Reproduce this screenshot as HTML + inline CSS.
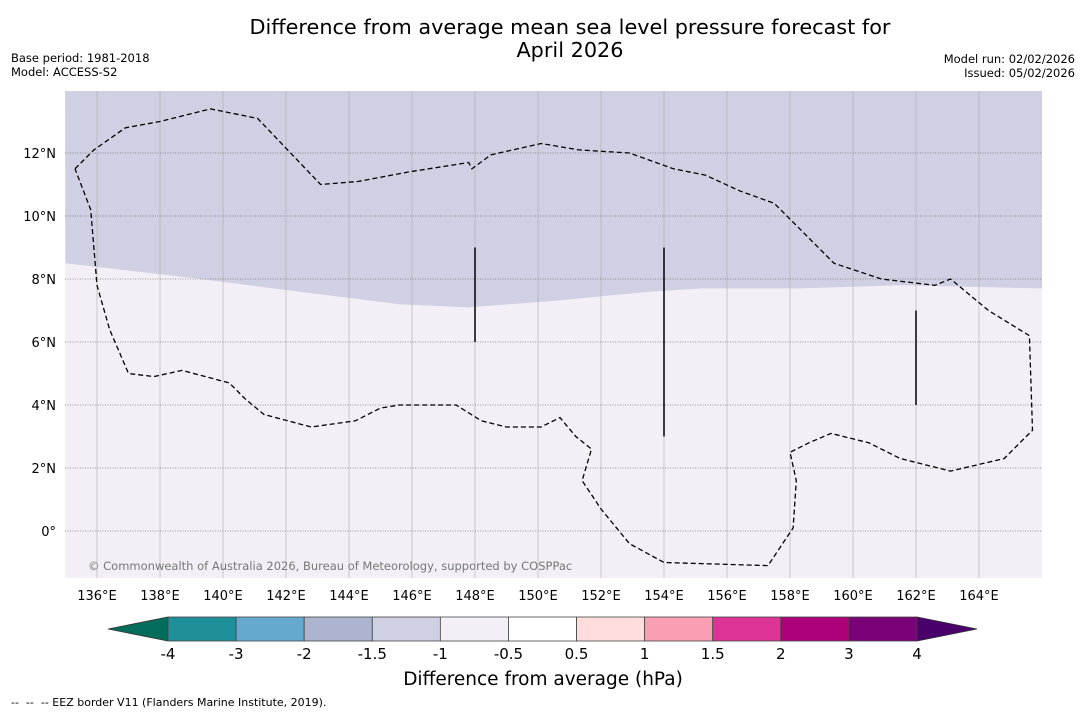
<!DOCTYPE html>
<html><head><meta charset="utf-8"><style>
body{margin:0;background:#fff;}
svg{display:block;font-family:"DejaVu Sans","Liberation Sans",sans-serif;}
</style></head><body>
<svg id="c" width="1085" height="713" xmlns="http://www.w3.org/2000/svg">
<text x="570" y="34" font-size="20.8" text-anchor="middle">Difference from average mean sea level pressure forecast for</text>
<text x="570" y="57" font-size="20.8" text-anchor="middle">April 2026</text>
<text x="11" y="62" font-size="11.5">Base period: 1981-2018</text>
<text x="11" y="76" font-size="11.5">Model: ACCESS-S2</text>
<text x="1075" y="63" font-size="11.5" text-anchor="end">Model run: 02/02/2026</text>
<text x="1075" y="77" font-size="11.5" text-anchor="end">Issued: 05/02/2026</text>
<g id="map"></g>
<g id="cbar"></g>
<text x="543" y="685" font-size="18.5" text-anchor="middle">Difference from average (hPa)</text>
<text x="11" y="706" font-size="11" xml:space="preserve" style="white-space:pre">--  --  -- EEZ border V11 (Flanders Marine Institute, 2019).</text>
</svg>
<script>
const lonTicks=[136,138,140,142,144,146,148,150,152,154,156,158,160,162,164];
const latTicks=[0,2,4,6,8,10,12];
const boundaryLon=[135.0,139.3,142.4,145.6,147.8,150.4,153.6,155.2,158.3,161.5,166.0];
const boundaryLat=[8.5,8.0,7.6,7.2,7.1,7.3,7.6,7.7,7.7,7.8,7.7];
const eezLon=[135.3,135.9,136.9,138.0,139.6,141.1,143.1,144.3,145.9,147.8,147.9,148.5,150.1,151.3,152.9,154.3,155.3,156.4,157.5,158.3,159.4,160.9,162.6,163.1,164.3,165.6,165.7,164.8,163.1,161.5,160.5,159.3,158.6,158.0,158.2,158.1,157.3,154.0,152.9,152.0,151.4,151.7,151.2,150.7,150.1,149.0,148.2,147.4,145.6,145.0,144.2,142.8,141.3,140.7,140.2,138.7,137.8,137.0,136.4,136.0,135.8,135.3];
const eezLat=[11.5,12.1,12.8,13.0,13.4,13.1,11.0,11.1,11.4,11.7,11.5,11.94,12.3,12.1,12.0,11.5,11.3,10.8,10.4,9.6,8.5,8.0,7.8,8.0,7.0,6.2,3.2,2.3,1.9,2.3,2.8,3.1,2.8,2.5,1.6,0.1,-1.1,-1.0,-0.4,0.7,1.6,2.6,3.0,3.6,3.3,3.3,3.5,4.0,4.0,3.9,3.5,3.3,3.7,4.2,4.7,5.1,4.9,5.0,6.4,7.8,10.2,11.5];
const segLon=[148,154,162];
const segLat0=[6.0,3.0,4.0];
const segLat1=[9.0,9.0,7.0];
const cbLevels=["-4","-3","-2","-1.5","-1","-0.5","0.5","1","1.5","2","3","4"];
const cbColors=["#1f9099","#66a9cf","#acb4cf","#cfd0e3","#f4eef6","#ffffff","#fddedd","#f99eb3","#dd3496","#ad0179","#7a0177"];
const NS="http://www.w3.org/2000/svg";
const X0=65,X1=1042,Y0=91,Y1=578;
const x=lon=>97+(lon-136)*31.5;
const y=lat=>153-(lat-12)*31.5;
function mk(t,a,p){const e=document.createElementNS(NS,t);for(const k in a)e.setAttribute(k,a[k]);p.appendChild(e);return e;}
const map=document.getElementById('map');
let r=mk('rect',{x:X0,y:Y0,width:X1-X0,height:Y1-Y0,fill:'#f4eef6'},map);


let d='M'+X0+','+Y0+' L'+X1+','+Y0;
for(let i=boundaryLon.length-1;i>=0;i--)d+=' L'+x(boundaryLon[i]).toFixed(1)+','+y(boundaryLat[i]).toFixed(1);
let up=mk('path',{d:d+'Z',fill:'#cfd0e3'},map);


lonTicks.forEach(l=>{
 let g=mk('line',{x1:x(l),x2:x(l),y1:Y0,y2:Y1,stroke:'#aaa',"stroke-width":0.6},map);
 
 
 let t=mk('text',{x:x(l),y:600,"font-size":13,"text-anchor":"middle"},map);t.textContent=l+'°E';
 
 
});
latTicks.forEach(l=>{
 let g=mk('line',{x1:X0,x2:X1,y1:y(l),y2:y(l),stroke:'#777',"stroke-width":0.8,"stroke-dasharray":"1,1.5"},map);
 
 
 let t=mk('text',{x:56,y:y(l)+5,"font-size":13,"text-anchor":"end"},map);t.textContent=l===0?'0°':l+'°N';
 
 
});
let pts=eezLon.map((l,i)=>x(l).toFixed(1)+','+y(eezLat[i]).toFixed(1)).join(' ');
let eez=mk('polyline',{points:pts,fill:'none',stroke:'#000',"stroke-width":1.3,"stroke-dasharray":"5,3"},map);


segLon.forEach((l,i)=>{
 let s=mk('line',{x1:x(l),x2:x(l),y1:y(segLat0[i]),y2:y(segLat1[i]),stroke:'#000',"stroke-width":1.5},map);
 
 
});
let cp=mk('text',{x:88,y:570,"font-size":11.5,fill:'#777'},map);cp.textContent='© Commonwealth of Australia 2026, Bureau of Meteorology, supported by COSPPac';


const cb=document.getElementById('cbar');
const CX0=168,CX1=917,CY0=617,CY1=641,w=(CX1-CX0)/cbColors.length;
let la=mk('polygon',{points:`${CX0},${CY0} ${CX0},${CY1} 108,629`,fill:'#046c5a',stroke:'#333',"stroke-width":0.8},cb);


let ra=mk('polygon',{points:`${CX1},${CY0} ${CX1},${CY1} 977,629`,fill:'#49006a',stroke:'#333',"stroke-width":0.8},cb);


cbColors.forEach((c,i)=>{
 let b=mk('rect',{x:CX0+i*w,y:CY0,width:w,height:CY1-CY0,fill:c,stroke:'#444',"stroke-width":0.8},cb);
 
 
});
cbLevels.forEach((v,i)=>{
 let t=mk('text',{x:CX0+i*w,y:659,"font-size":15,"text-anchor":"middle"},cb);t.textContent=v;
 
 
});
</script>
</body></html>
